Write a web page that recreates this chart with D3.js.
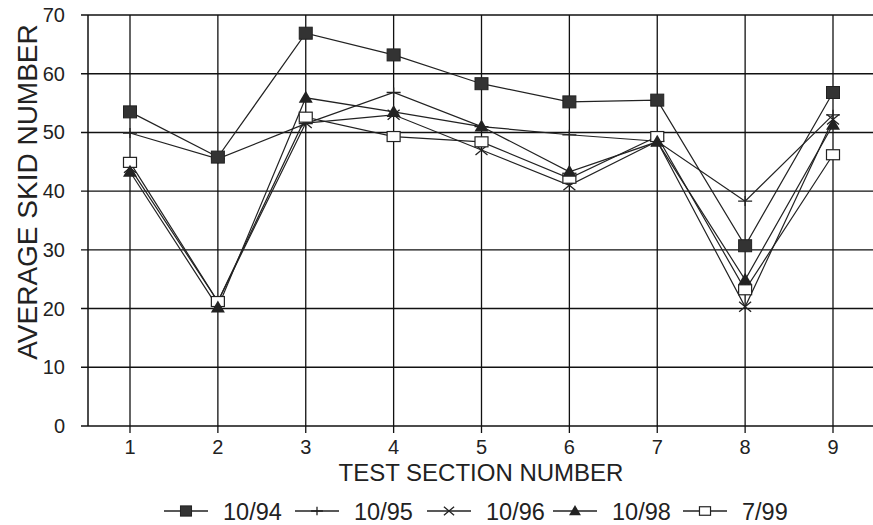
<!DOCTYPE html>
<html><head><meta charset="utf-8">
<script src="https://cdn.jsdelivr.net/npm/d3@7"></script>
<style>
html,body{margin:0;padding:0;background:#fff;}
svg{display:block;font-family:"Liberation Sans",Arial,Helvetica,sans-serif;}
</style></head>
<body>
<svg id="chart" width="873" height="525"></svg>
<script>
const sections = [1,2,3,4,5,6,7,8,9];
const yTicks = [0,10,20,30,40,50,60,70];
const seriesNames = ["10/94","10/95","10/96","10/98","7/99"];
const v1094 = [53.5,45.8,66.9,63.2,58.3,55.2,55.5,30.7,56.8];
const v1095 = [49.9,45.5,51.5,56.8,51.0,49.6,48.5,38.3,53.0];
const v1096 = [44.0,21.2,51.6,53.0,47.0,41.0,48.5,20.3,52.2];
const v1098 = [43.3,20.2,55.9,53.5,51.0,43.3,48.4,24.9,51.3];
const v799  = [44.9,21.2,52.6,49.3,48.4,42.2,49.3,23.2,46.2];
const seriesValues = [v1094,v1095,v1096,v1098,v799];
const markers = ["fsquare","plus","cross","triangle","osquare"];

const svg = d3.select("#chart");
const x = d3.scaleLinear().domain([1,9]).range([130,833]);
const y = d3.scaleLinear().domain([0,70]).range([426,15]);
const left = 88, right = 890;

// grid
const g = svg.append("g");
g.selectAll(".hg").data(yTicks).join("line")
  .attr("x1",81).attr("x2",right)
  .attr("y1",d=>y(d)).attr("y2",d=>y(d))
  .attr("stroke","#111").attr("stroke-width",1.4);
g.selectAll(".vg").data(sections).join("line")
  .attr("x1",d=>x(d)).attr("x2",d=>x(d))
  .attr("y1",y(70)).attr("y2",y(0)+7)
  .attr("stroke","#111").attr("stroke-width",1.3);
g.append("line").attr("x1",left).attr("x2",left).attr("y1",y(70)).attr("y2",y(0))
  .attr("stroke","#111").attr("stroke-width",1.5);

// tick labels
svg.selectAll(".yl").data(yTicks).join("text")
  .attr("x",65).attr("y",d=>y(d)+7).attr("text-anchor","end")
  .attr("font-size",20).attr("fill","#222").text(d=>d);
svg.selectAll(".xl").data(sections).join("text")
  .attr("x",d=>x(d)).attr("y",454).attr("text-anchor","middle")
  .attr("font-size",20).attr("fill","#222").text(d=>d);

svg.append("text").attr("x",481).attr("y",481).attr("text-anchor","middle")
  .attr("font-size",24).attr("fill","#222").text("TEST SECTION NUMBER");
svg.append("text").attr("transform","translate(37,192) rotate(-90)").attr("text-anchor","middle")
  .attr("font-size",28).attr("fill","#222").text("AVERAGE SKID NUMBER");

function drawMarker(sel, type, s){
  s = s || 1;
  if(type==="fsquare"){
    sel.append("rect").attr("x",-6.5*s).attr("y",-6*s).attr("width",13*s).attr("height",12*s)
      .attr("fill","#333").attr("stroke","#222").attr("stroke-width",1);
  } else if(type==="osquare"){
    sel.append("rect").attr("x",-6.5*s).attr("y",-5*s).attr("width",13*s).attr("height",10*s)
      .attr("fill","#fff").attr("stroke","#222").attr("stroke-width",1.2);
  } else if(type==="triangle"){
    sel.append("path").attr("d",`M0,${-7*s}L${7*s},${5*s}L${-7*s},${5*s}Z`).attr("fill","#222");
  } else if(type==="plus"){
    sel.append("path").attr("d",`M${-7*s},0H${7*s}M0,${-5*s}V${5*s}`).attr("stroke","#222").attr("stroke-width",1.3);
  } else if(type==="cross"){
    sel.append("path").attr("d",`M${-6*s},${-5*s}L${6*s},${5*s}M${-6*s},${5*s}L${6*s},${-5*s}`).attr("stroke","#222").attr("stroke-width",1.3);
  }
}

const line = d3.line().x((d,i)=>x(sections[i])).y(d=>y(d));
seriesValues.forEach((vals,si)=>{
  svg.append("path").datum(vals).attr("d",line)
    .attr("fill","none").attr("stroke","#222").attr("stroke-width",1.2);
});
[1,2,4,3,0].forEach(si=>{
  const vals = seriesValues[si];
  vals.forEach((v,i)=>{
    const m = svg.append("g").attr("transform",`translate(${x(sections[i])},${y(v)})`);
    drawMarker(m, markers[si]);
  });
});

// legend
const legX = [164,295,427,553,683];
const legend = svg.append("g");
seriesNames.forEach((name,i)=>{
  const lg = legend.append("g").attr("transform",`translate(${legX[i]},511)`);
  lg.append("line").attr("x1",0).attr("x2",44).attr("y1",0).attr("y2",0)
    .attr("stroke","#222").attr("stroke-width",1.3);
  const m = lg.append("g").attr("transform","translate(22,0)");
  drawMarker(m, markers[i], 0.85);
  lg.append("text").attr("x",59).attr("y",9).attr("font-size",23.5).attr("fill","#222").text(name);
});
</script>
</body></html>
